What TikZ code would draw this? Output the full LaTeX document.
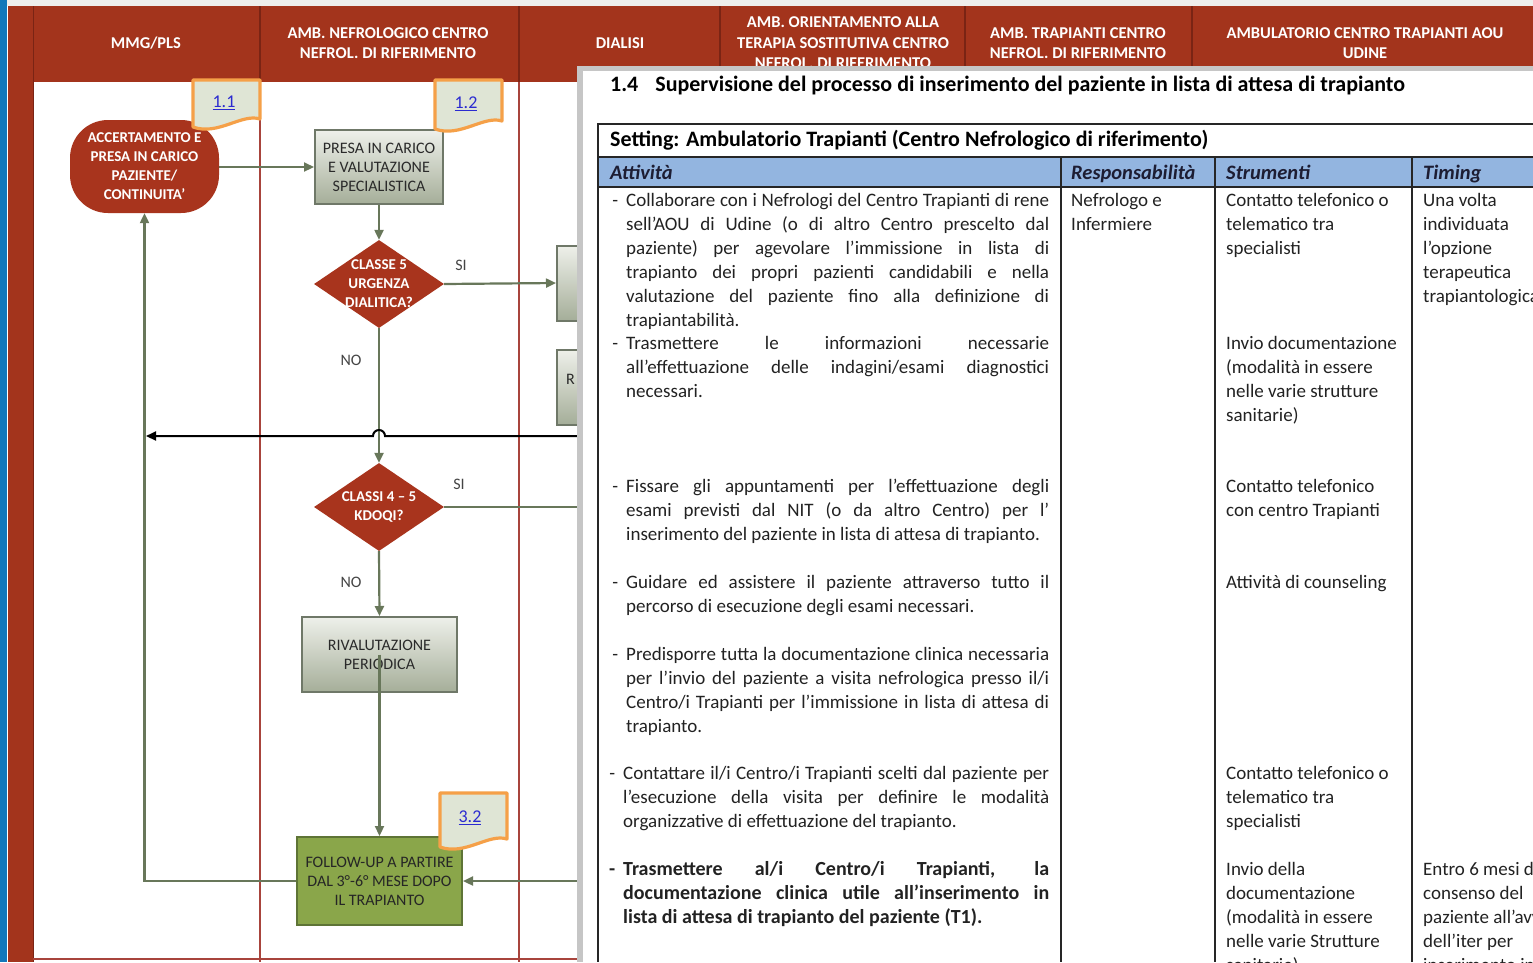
\documentclass[tikz,border=0pt]{standalone}
\usepackage{fontspec}
\setmainfont{Carlito}
\usetikzlibrary{shapes.geometric,arrows.meta}
\definecolor{bluestrip}{HTML}{1277BA}
\definecolor{topgray}{HTML}{EFEEEC}
\definecolor{hdrred}{HTML}{A3341C}
\definecolor{hdrsep}{HTML}{7A2414}
\definecolor{lane}{HTML}{A8443C}
\definecolor{nodered}{HTML}{A8341D}
\definecolor{boxtop}{HTML}{EEF0EA}
\definecolor{boxbot}{HTML}{A5AE99}
\definecolor{boxedge}{HTML}{6F7868}
\definecolor{boxtext}{HTML}{2A2A2A}
\definecolor{greenfill}{HTML}{8AA64A}
\definecolor{greenedge}{HTML}{5E7436}
\definecolor{arrowc}{HTML}{68775A}
\definecolor{notefill}{HTML}{DFE5D5}
\definecolor{noteorange}{HTML}{F5A048}
\definecolor{linkblue}{HTML}{2B2BD0}
\definecolor{framegray}{HTML}{C6C6C6}
\definecolor{tablec}{HTML}{262626}
\definecolor{hdrblue}{HTML}{93B5E0}
\definecolor{bodytext}{HTML}{222222}
\definecolor{hdrtext}{HTML}{1D1D33}
\definecolor{yntext}{HTML}{444444}
\newcommand\bodyfont{\fontsize{19}{24}\selectfont}
\newcommand\flowfont{\fontsize{16}{19}\selectfont}
\newcommand\whitefont{\fontsize{15}{19}\selectfont\bfseries}
\newcommand\hdrfont{\fontsize{16.5}{20.5}\selectfont\bfseries}
\newcommand\notefont{\fontsize{18}{20}\selectfont}
\newcommand\jl[1]{\hbox to\hsize{#1}}
\newcommand\lastl[1]{\hbox{#1}}
\newcommand\itemdash{\llap{-\hskip 8pt}}
\hbadness=10000
\hfuzz=20pt
\begin{document}
\begin{tikzpicture}[x=1pt,y=-1pt,
  flow/.style={draw=arrowc, line width=2.2pt, -{Triangle[length=10pt,width=9pt]}},
  flowline/.style={draw=arrowc, line width=2.2pt},
  hdr/.style={text=white, font=\hdrfont, align=center, inner sep=0pt},
  redrnd/.style={rectangle, rounded corners=38pt, fill=nodered, text=white, font=\whitefont, align=center, inner sep=0pt},
  graybox/.style={rectangle, draw=boxedge, line width=2pt, top color=boxtop, bottom color=boxbot, font=\flowfont, text=boxtext, align=center, inner sep=0pt},
  greenbox/.style={rectangle, draw=greenedge, line width=2pt, fill=greenfill, font=\flowfont, text=black!85, align=center, inner sep=0pt},
  dia/.style={diamond, fill=nodered, minimum width=130pt, minimum height=88pt, inner sep=0pt},
  dlabel/.style={text=white, font=\whitefont, align=center, inner sep=0pt},
  yn/.style={font=\fontsize{16}{19}\selectfont, text=yntext, inner sep=0pt},
  ftxt/.style={font=\flowfont, text=boxtext, inner sep=0pt},
  note/.style={draw=noteorange, line width=3.2pt, fill=notefill, line join=round},
  notetxt/.style={font=\notefont, text=linkblue, inner sep=0pt},
  tline/.style={draw=tablec, line width=1.5pt},
  cell/.style={anchor=base west, inner sep=0pt, text=bodytext},
  colhead/.style={anchor=base west, inner sep=0pt, text=hdrtext, font=\fontsize{20.5}{24}\selectfont\bfseries\itshape},
  bigbold/.style={anchor=base west, inner sep=0pt, text=black, font=\fontsize{22}{26}\selectfont\bfseries},
]
\useasboundingbox (0,0) rectangle (1533,962);
\clip (0,0) rectangle (1533,962);
% ---------- background of the flowchart ----------
\fill[white] (0,0) rectangle (1533,962);
\fill[topgray] (0,0) rectangle (1533,6);
\fill[hdrred] (8,6) rectangle (1533,82);
\fill[hdrred] (8,82) rectangle (33,962);
\fill[bluestrip] (0,0) rectangle (7,962);
\draw[hdrsep, line width=1.5pt] (33.5,6) -- (33.5,962);
\foreach \xx in {260,519,720,965,1192} \draw[hdrsep, line width=1.5pt] (\xx,6) -- (\xx,82);
\draw[lane, line width=2pt] (260,82) -- (260,962);
\draw[lane, line width=2pt] (519,82) -- (519,962);
\draw[lane, line width=2pt] (33,959) -- (580,959);
% ---------- header texts ----------
\node[hdr] (h1) at (146,43) {MMG/PLS};
\node[hdr] (h2) at (388,43) {AMB. NEFROLOGICO CENTRO\\NEFROL. DI RIFERIMENTO};
\node[hdr] (h3) at (620,43) {DIALISI};
\node[hdr] (h4) at (843,43) {AMB. ORIENTAMENTO ALLA\\TERAPIA SOSTITUTIVA CENTRO\\NEFROL. DI RIFERIMENTO};
\node[hdr] (h5) at (1078,43) {AMB. TRAPIANTI CENTRO\\NEFROL. DI RIFERIMENTO};
\node[hdr] (h6) at (1365,43) {AMBULATORIO CENTRO TRAPIANTI AOU\\UDINE};
% ---------- flowchart nodes ----------
\node[redrnd, minimum width=149pt, minimum height=93pt] (n1) at (144.5,166.5) {ACCERTAMENTO E\\PRESA IN CARICO\\PAZIENTE/\\CONTINUITA’};
\node[graybox, minimum width=128pt, minimum height=74pt] (n2) at (379,167) {PRESA IN CARICO\\E VALUTAZIONE\\SPECIALISTICA};
\node[dia, label={[dlabel]center:{CLASSE 5\\URGENZA\\DIALITICA?}}] (d1) at (379,284) {};
\node[graybox, minimum width=124pt, minimum height=75pt, anchor=west] (b3) at (556,283) {};
\node[graybox, minimum width=124pt, minimum height=75pt, anchor=west] (b4) at (556,387) {};
\node[ftxt, anchor=west] (b4t) at (566,379) {R};
\node[dia, label={[dlabel]center:{CLASSI 4 – 5\\KDOQI?}}] (d2) at (379,507) {};
\node[graybox, minimum width=155pt, minimum height=75pt] (rv) at (379.5,654.5) {RIVALUTAZIONE\\PERIODICA};
\node[greenbox, minimum width=165pt, minimum height=88pt] (fu) at (379.5,881) {FOLLOW-UP A PARTIRE\\DAL 3°-6° MESE DOPO\\IL TRAPIANTO};
% labels
\node[yn] (si1) at (461,265) {SI};
\node[yn] (no1) at (351,360) {NO};
\node[yn] (si2) at (459,484) {SI};
\node[yn] (no2) at (351,582) {NO};
% coordinates for connectors leaving under the overlay
\coordinate (bk) at (600,436);
\coordinate (ret) at (n1.south |- bk);
\coordinate (d2si) at (600,507);
\coordinate (fuin) at (600,881);
% connectors
\draw[flow] (n1.east |- n2.west) -- (n2.west);
\draw[flow] (n2.south) -- (d1.north);
\draw[flow] (d1.east) -- (b3.west);
\draw[flow] (d1.south) -- (d2.north);
\draw[flowline] (d2.east) -- (d2si);
\draw[flow] (d2.south) -- (rv.north);
\draw[flow] (rv.center) -- (fu.north);
\draw[flow] (fuin) -- (fu.east);
\draw[flow] (fu.west) -| (n1.south);
\draw[black, line width=2pt, -{Triangle[length=10pt,width=9pt]}, shorten >=1.5pt]
  (bk) -- (385,436) arc[start angle=0, end angle=-180, radius=6] -- (ret);
% notes
\draw[note] (193,80) -- (260,80) -- (260,119) .. controls (242,113) and (218,136) .. (193,127) -- cycle;
\node[notetxt] (note11) at (224,103) {\underline{1.1}};
\draw[note] (435,80) -- (502,80) -- (502,121) .. controls (484,115) and (460,138) .. (435,129) -- cycle;
\node[notetxt] (note12) at (466,104) {\underline{1.2}};
\draw[note] (440,793) -- (507,793) -- (507,839) .. controls (489,833) and (465,856) .. (440,847) -- cycle;
\node[notetxt] (note32) at (470,818) {\underline{3.2}};
% ---------- overlay document ----------
\fill[framegray] (577,66) rectangle (1533,962);
\fill[white] (583,71) rectangle (1533,962);
\node[bigbold] (title) at (610,91) {1.4\hspace{17pt}Supervisione del processo di inserimento del paziente in lista di attesa di trapianto};
% table grid
\fill[hdrblue] (599,157) rectangle (1533,187);
\draw[tline] (1533,124) -- (598,124) -- (598,962);
\draw[tline] (598,157) -- (1533,157);
\draw[tline] (598,187) -- (1533,187);
\draw[tline] (1061,157) -- (1061,962);
\draw[tline] (1215,157) -- (1215,962);
\draw[tline] (1412,157) -- (1412,962);
\node[bigbold] (setting) at (610,146) {Setting: Ambulatorio Trapianti (Centro Nefrologico di riferimento)};
\node[colhead] (c1) at (610,179) {Attività};
\node[colhead] (c2) at (1071,179) {Responsabilità};
\node[colhead] (c3) at (1226,179) {Strumenti};
\node[colhead] (c4) at (1423,179) {Timing};
% Attivita column
\node[cell] (a1) at (626,206) {\parbox[t]{423pt}{\bodyfont
\jl{\itemdash Collaborare con i Nefrologi del Centro Trapianti di rene}
\jl{sell’AOU di Udine (o di altro Centro prescelto dal}
\jl{paziente) per agevolare l’immissione in lista di}
\jl{trapianto dei propri pazienti candidabili e nella}
\jl{valutazione del paziente fino alla definizione di}
\lastl{trapiantabilità.}}};
\node[cell] (a2) at (626,349) {\parbox[t]{423pt}{\bodyfont
\jl{\itemdash Trasmettere le informazioni necessarie}
\jl{all’effettuazione delle indagini/esami diagnostici}
\lastl{necessari.}}};
\node[cell] (a3) at (626,492) {\parbox[t]{423pt}{\bodyfont
\jl{\itemdash Fissare gli appuntamenti per l’effettuazione degli}
\jl{esami previsti dal NIT (o da altro Centro) per l’}
\lastl{inserimento del paziente in lista di attesa di trapianto.}}};
\node[cell] (a4) at (626,588) {\parbox[t]{423pt}{\bodyfont
\jl{\itemdash Guidare ed assistere il paziente attraverso tutto il}
\lastl{percorso di esecuzione degli esami necessari.}}};
\node[cell] (a5) at (626,660) {\parbox[t]{423pt}{\bodyfont
\jl{\itemdash Predisporre tutta la documentazione clinica necessaria}
\jl{per l’invio del paziente a visita nefrologica presso il/i}
\jl{Centro/i Trapianti per l’immissione in lista di attesa di}
\lastl{trapianto.}}};
\node[cell] (a6) at (623,779) {\parbox[t]{426pt}{\bodyfont
\jl{\itemdash Contattare il/i Centro/i Trapianti scelti dal paziente per}
\jl{l’esecuzione della visita per definire le modalità}
\lastl{organizzative di effettuazione del trapianto.}}};
\node[cell] (a7) at (623,875) {\parbox[t]{426pt}{\fontsize{20}{24}\selectfont\bfseries
\jl{\itemdash Trasmettere al/i Centro/i Trapianti, la}
\jl{documentazione clinica utile all’inserimento in}
\lastl{lista di attesa di trapianto del paziente (T1).}}};
% Responsabilita column
\node[cell] (r1) at (1071,206) {\parbox[t]{200pt}{\bodyfont Nefrologo e\\Infermiere}};
% Strumenti column
\node[cell] (s1) at (1226,206) {\parbox[t]{250pt}{\bodyfont Contatto telefonico o\\telematico tra\\specialisti}};
\node[cell] (s2) at (1226,349) {\parbox[t]{250pt}{\bodyfont Invio documentazione\\(modalità in essere\\nelle varie strutture\\sanitarie)}};
\node[cell] (s3) at (1226,492) {\parbox[t]{250pt}{\bodyfont Contatto telefonico\\con centro Trapianti}};
\node[cell] (s4) at (1226,588) {\parbox[t]{250pt}{\bodyfont Attività di counseling}};
\node[cell] (s5) at (1226,779) {\parbox[t]{250pt}{\bodyfont Contatto telefonico o\\telematico tra\\specialisti}};
\node[cell] (s6) at (1226,875) {\parbox[t]{250pt}{\bodyfont Invio della\\documentazione\\(modalità in essere\\nelle varie Strutture\\sanitarie)}};
% Timing column
\node[cell] (t1) at (1423,206) {\parbox[t]{250pt}{\bodyfont Una volta\\individuata\\l’opzione\\terapeutica\\trapiantologica}};
\node[cell] (t2) at (1423,875) {\parbox[t]{250pt}{\bodyfont Entro 6 mesi dal\\consenso del\\paziente all’avvio\\dell’iter per\\inserimento in}};
\end{tikzpicture}
\end{document}
